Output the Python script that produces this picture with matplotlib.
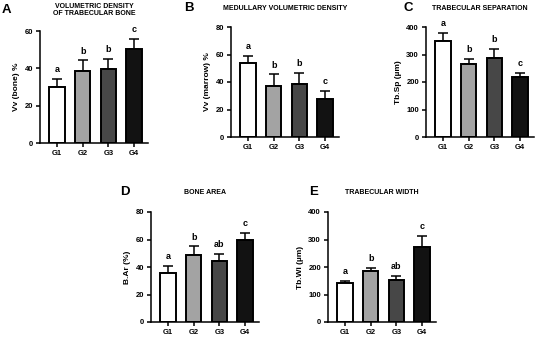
import numpy as np
import matplotlib
matplotlib.use("Agg")
import matplotlib.pyplot as plt

plt.rcParams['font.family'] = ['Liberation Sans', 'DejaVu Sans']
plt.rcParams['font.weight'] = 'bold'

groups = ['G1', 'G2', 'G3', 'G4']
bar_colors = ['#ffffff', '#a3a3a3', '#474747', '#121212']

# means and SEM (upper bars only)
vv_bone = [30.0, 38.8, 39.8, 50.5]
vv_bone_err = [4.2, 5.4, 5.3, 5.1]
vv_marrow = [53.5, 37.4, 38.6, 27.5]
vv_marrow_err = [5.6, 8.1, 7.8, 6.2]
tb_sp = [348, 264, 287, 220]
tb_sp_err = [30, 19, 32, 14]
b_ar = [36.0, 48.7, 44.4, 59.4]
b_ar_err = [4.5, 6.3, 4.8, 5.6]
tb_wi = [143, 184, 154, 274]
tb_wi_err = [7, 14, 12, 39]

letters_abc = ['a', 'b', 'b', 'c']
letters_ab = ['a', 'b', 'ab', 'c']

W, H = 546, 338
fig = plt.figure(figsize=(W / 100, H / 100), dpi=100)


def panel(left, top, bottom, vals, errs, ymax, ystep, ylabel, title, tag, letters,
          title_y, tag_x, width=108):
    ax = fig.add_axes([left / W, 1 - bottom / H, width / W, (bottom - top) / H])
    x = np.arange(len(groups))
    ax.bar(x, vals, width=0.6, color=bar_colors, edgecolor='black', linewidth=1.4, zorder=2)
    ax.errorbar(x, vals, yerr=[np.zeros(len(vals)), errs], fmt='none', ecolor='black',
                elinewidth=1.1, capsize=3.5, capthick=1.1, zorder=1)
    for xi, v, e, lab in zip(x, vals, errs, letters):
        ax.annotate(lab, (xi, v + e), xytext=(0, 3.5), textcoords='offset points',
                    ha='center', va='bottom', fontsize=6.5, fontweight='bold')
    ax.set_xlim(-0.67, 3.55)
    ax.set_ylim(0, ymax)
    ax.set_yticks(np.arange(0, ymax + 1, ystep))
    ax.set_xticks(x)
    ax.set_xticklabels(groups)
    ax.spines['top'].set_visible(False)
    ax.spines['right'].set_visible(False)
    ax.spines['left'].set_linewidth(1.1)
    ax.spines['bottom'].set_linewidth(1.1)
    ax.tick_params(labelsize=5.5, width=1.1, length=3, pad=2)
    ax.set_ylabel(ylabel, fontsize=6, fontweight='bold', labelpad=3)
    fig.text((left + width / 2) / W, 1 - title_y / H, title, ha='center', va='center',
             fontsize=5, fontweight='bold', linespacing=1.1)
    fig.text(tag_x / W, 1 - title_y / H, tag, ha='left', va='center',
             fontsize=9.5, fontweight='bold')
    return ax


panel(40, 31, 143, vv_bone, vv_bone_err, 60, 20, 'Vv (bone) %',
      'VOLUMETRIC DENSITY\nOF TRABECULAR BONE', 'A', letters_abc, 10, 2)
panel(231, 27, 137, vv_marrow, vv_marrow_err, 80, 20, 'Vv (marrow) %',
      'MEDULLARY VOLUMETRIC DENSITY', 'B', letters_abc, 8, 184)
panel(426, 27, 137, tb_sp, tb_sp_err, 400, 100, 'Tb.Sp (µm)',
      'TRABECULAR SEPARATION', 'C', letters_abc, 8, 403)
panel(151, 212, 322, b_ar, b_ar_err, 80, 20, 'B.Ar (%)',
      'BONE AREA', 'D', letters_ab, 192, 120)
panel(328, 212, 322, tb_wi, tb_wi_err, 400, 100, 'Tb.Wi (µm)',
      'TRABECULAR WIDTH', 'E', letters_ab, 192, 309)

fig.savefig('out.png', dpi=100)
